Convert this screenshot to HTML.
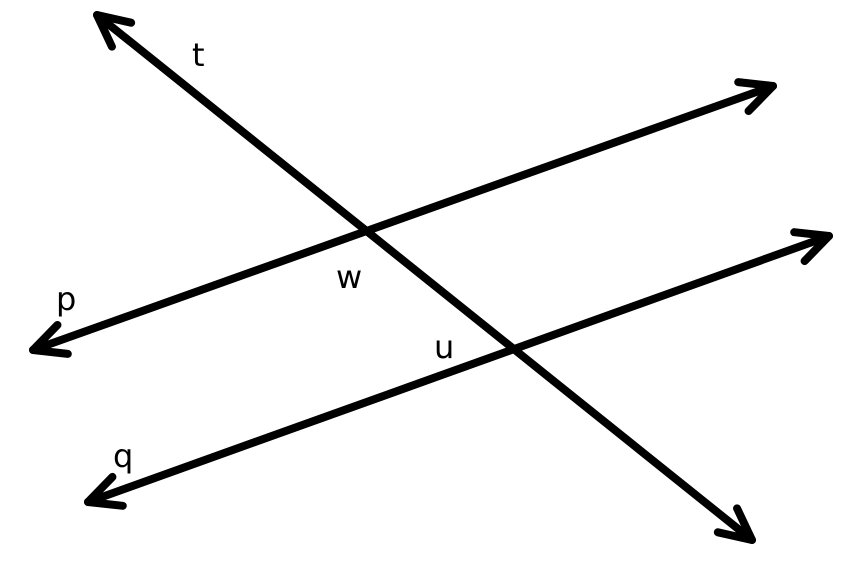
<!DOCTYPE html>
<html><head><style>
html,body{margin:0;padding:0;background:#fff;}
svg{display:block;}
text{font-family:"DejaVu Sans","Liberation Sans",sans-serif;font-size:32px;fill:#000;}
</style></head><body>
<svg id="s" width="847" height="576" viewBox="0 0 847 576" xmlns="http://www.w3.org/2000/svg">
<g stroke="#000" stroke-width="8" stroke-linecap="round" stroke-linejoin="round" fill="none" id="g">
<line x1="97" y1="15" x2="752" y2="540"/>
<line x1="33" y1="350" x2="773" y2="86"/>
<line x1="88" y1="502" x2="829" y2="236"/>
</g>
<text x="192" y="66">t</text>
<text x="56" y="310">p</text>
<text x="336" y="288">w</text>
<text x="434" y="358">u</text>
<text x="113" y="467">q</text>
</svg>
<script>
var g=document.getElementById('g');
function arrow(tx,ty,ox,oy){var dx=ox-tx,dy=oy-ty,l=Math.hypot(dx,dy);dx/=l;dy/=l;var a=26*Math.PI/180,L=35;
function r(s){var c=Math.cos(s*a),n=Math.sin(s*a);return [tx+L*(dx*c-dy*n),ty+L*(dx*n+dy*c)];}
var p1=r(1),p2=r(-1);var pl=document.createElementNS('http://www.w3.org/2000/svg','polyline');
pl.setAttribute('points',p1.join(',')+' '+tx+','+ty+' '+p2.join(','));g.appendChild(pl);}
arrow(97,15,752,540);arrow(752,540,97,15);
arrow(33,350,773,86);arrow(773,86,33,350);
arrow(88,502,829,236);arrow(829,236,88,502);
</script>
</body></html>
